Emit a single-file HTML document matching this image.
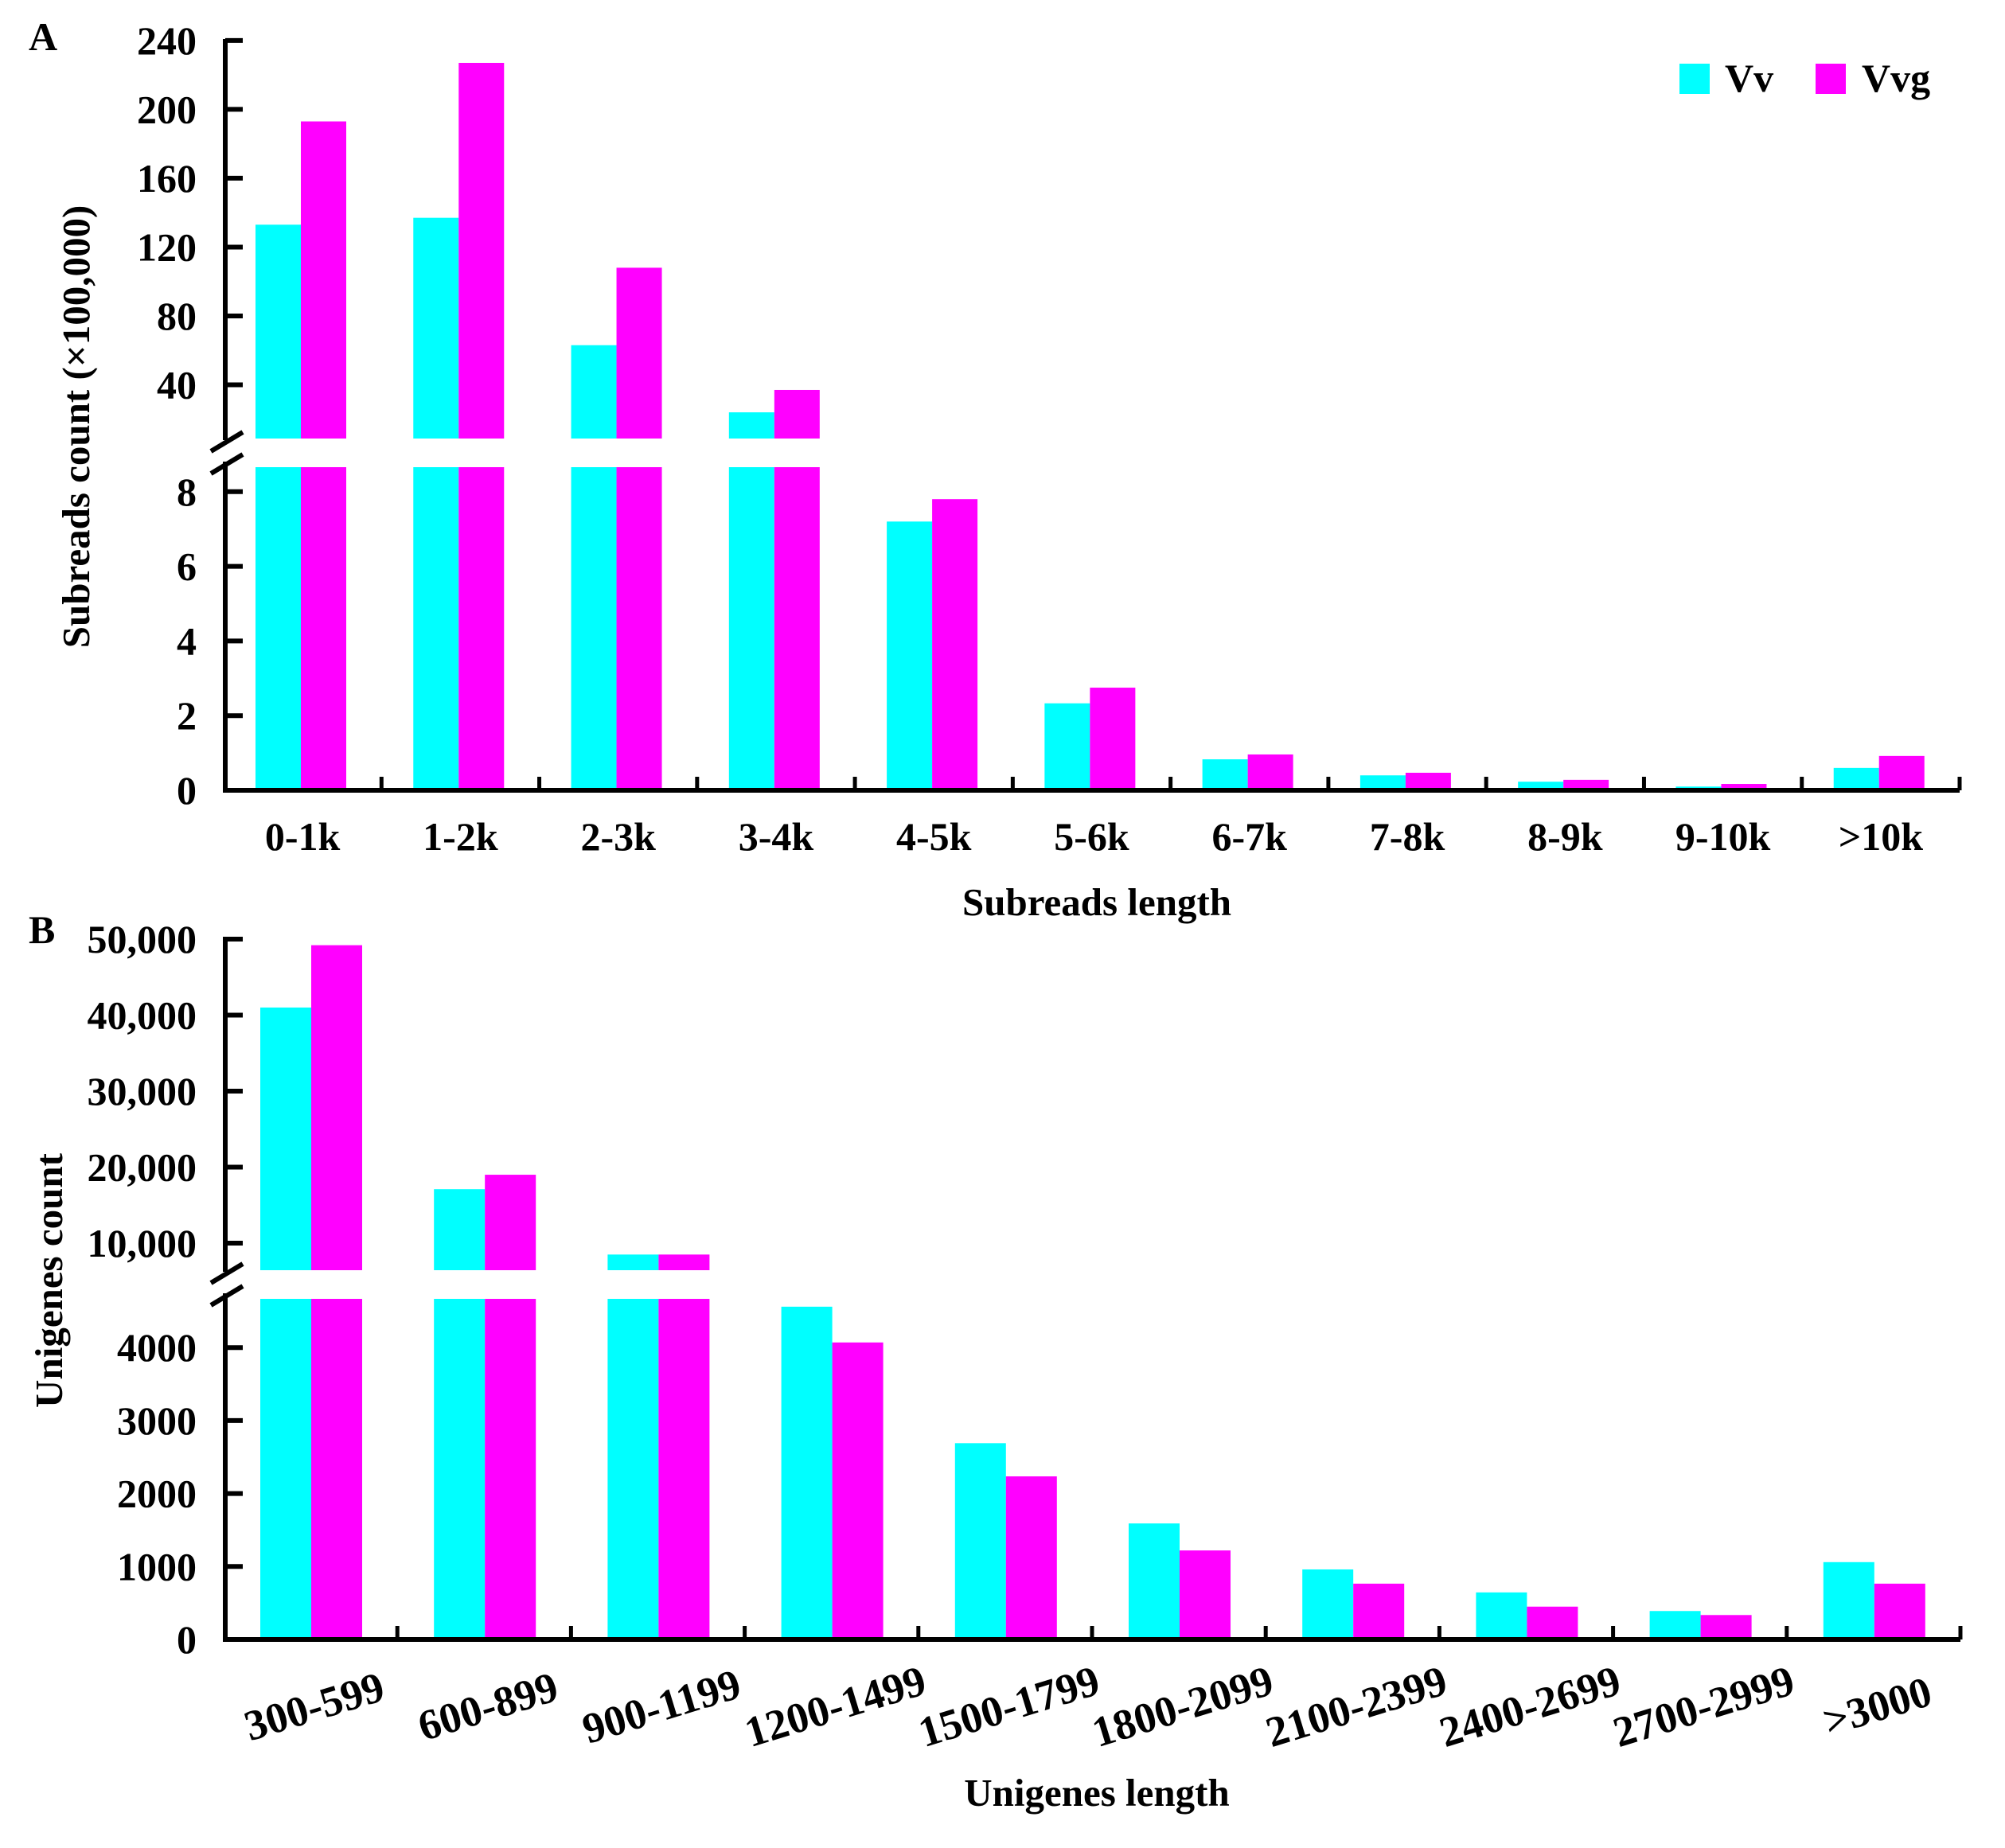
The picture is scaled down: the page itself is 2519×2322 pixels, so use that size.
<!DOCTYPE html>
<html><head><meta charset="utf-8"><style>
html,body{margin:0;padding:0;background:#fff}
svg{display:block}
text{font-family:"Liberation Serif",serif;font-weight:bold;fill:#000}
</style></head><body>
<svg id="chart" width="2519" height="2322" viewBox="0 0 2519 2322" xmlns="http://www.w3.org/2000/svg">
<text x="36" y="63" font-size="50">A</text>
<text x="36" y="1185" font-size="50">B</text>
<text transform="translate(112,536) rotate(-90)" text-anchor="middle" font-size="49">Subreads count (×100,000)</text>
<text transform="translate(78,1609) rotate(-90)" text-anchor="middle" font-size="49">Unigenes count</text>
<text x="1378" y="1150" text-anchor="middle" font-size="49">Subreads length</text>
<text x="1378" y="2269" text-anchor="middle" font-size="49">Unigenes length</text>
<rect x="2110" y="80" width="38" height="38" fill="#00ffff"/>
<text x="2167" y="115" font-size="50">Vv</text>
<rect x="2281" y="80" width="38" height="38" fill="#ff00ff"/>
<text x="2339" y="115" font-size="50">Vvg</text>
</svg>
<script>
const catsA=["0-1k","1-2k","2-3k","3-4k","4-5k","5-6k","6-7k","7-8k","8-9k","9-10k",">10k"];
const vvA=[133,137,63,24,7.2,2.33,0.83,0.4,0.23,0.1,0.6];
const vvgA=[193,227,108,37,7.8,2.75,0.96,0.47,0.28,0.17,0.92];
const upperTicksA=[40,80,120,160,200,240];
const lowerTicksA=[0,2,4,6,8];
const catsB=["300-599","600-899","900-1199","1200-1499","1500-1799","1800-2099","2100-2399","2400-2699","2700-2999",">3000"];
const vvB=[41000,17100,8500,4560,2690,1590,960,645,390,1060];
const vvgB=[49200,19000,8500,4070,2235,1220,765,450,335,765];
const upperTicksB=[10000,20000,30000,40000,50000];
const upperLabelsB=["10,000","20,000","30,000","40,000","50,000"];
const lowerTicksB=[0,1000,2000,3000,4000];

const svg=document.getElementById('chart');
const NS="http://www.w3.org/2000/svg";
function el(tag,attrs){const e=document.createElementNS(NS,tag);for(const k in attrs)e.setAttribute(k,attrs[k]);svg.appendChild(e);return e;}

function panel(cfg){
  const {cats,vv,vvg,x0,x1,off,bw,zero,lowScale,lowTop,brkVal,upZero,upScale,upBottom,axisTopY,uTicks,uLabels,lTicks,labelY,rot,p}=cfg;
  const cw=(x1-x0)/cats.length;
  const yL=v=>zero-v*lowScale;
  const yU=v=>upZero-v*upScale;
  function bar(i,v,color,shift,name){
    const x=x0+i*cw+off+shift;
    if(v<=brkVal){
      const r=el('rect',{x:x,y:yL(v),width:bw,height:zero-yL(v),fill:color});
      
      
    }else{
      const r1=el('rect',{x:x,y:lowTop,width:bw,height:zero-lowTop,fill:color});
      
      
      const r2=el('rect',{x:x,y:yU(v),width:bw,height:upBottom-yU(v),fill:color});
      
      
    }
  }
  cats.forEach((c,i)=>{
    bar(i,vv[i],'#00ffff',0,p+'-bar-vv-'+i);
    bar(i,vvg[i],'#ff00ff',bw,p+'-bar-vvg-'+i);
    const cx=x0+i*cw+cw/2;
    let t;
    if(rot){
      t=el('text',{x:cx+5,y:labelY,'text-anchor':'middle','font-size':54,transform:`rotate(-17 ${cx+5} ${labelY-17})`});
    }else{
      t=el('text',{x:cx,y:labelY,'text-anchor':'middle','font-size':50});
    }
    t.textContent=c;
    
    
  });
  const ax=x0+2;
  const a1=el('line',{x1:ax,y1:axisTopY-3,x2:ax,y2:upBottom+2,stroke:'#000','stroke-width':6});
  
  
  const a2=el('line',{x1:ax,y1:lowTop-7,x2:ax,y2:zero+3,stroke:'#000','stroke-width':6});
  
  
  [upBottom+16,lowTop+8].forEach(yy=>{
    const s=el('line',{x1:ax-18,y1:yy,x2:ax+22,y2:yy-24,stroke:'#000','stroke-width':6});
    
    
  });
  const xa=el('line',{x1:x0-1,y1:zero,x2:x1,y2:zero,stroke:'#000','stroke-width':6});
  
  
  for(let i=1;i<=cats.length;i++){
    const tx=x0+i*cw;
    const tk=el('line',{x1:tx,y1:zero,x2:tx,y2:zero-17,stroke:'#000','stroke-width':5});
    
    
  }
  uTicks.forEach((v,i)=>{
    const y=yU(v);
    const tk=el('line',{x1:ax,y1:y,x2:ax+22,y2:y,stroke:'#000','stroke-width':6});
    
    
    const t=el('text',{x:247,y:y+17,'text-anchor':'end','font-size':50});
    t.textContent=uLabels?uLabels[i]:String(v);
    
    
  });
  lTicks.forEach(v=>{
    const y=yL(v);
    if(v>0){
      const tk=el('line',{x1:ax,y1:y,x2:ax+22,y2:y,stroke:'#000','stroke-width':6});
      
      
    }
    const t=el('text',{x:247,y:y+17,'text-anchor':'end','font-size':50});
    t.textContent=String(v);
    
    
  });
}
panel({p:'a',cats:catsA,vv:vvA,vvg:vvgA,x0:281,x1:2462,off:40,bw:57,zero:993,lowScale:46.9,lowTop:587,brkVal:8.5,upZero:570,upScale:2.163,upBottom:551,axisTopY:52,uTicks:upperTicksA,lTicks:lowerTicksA,labelY:1068,rot:false});
panel({p:'b',cats:catsB,vv:vvB,vvg:vvgB,x0:281,x1:2463,off:46,bw:64,zero:2060,lowScale:0.0917,lowTop:1632,brkVal:4650,upZero:1657.5,upScale:0.00955,upBottom:1596,axisTopY:1180,uTicks:upperTicksB,uLabels:upperLabelsB,lTicks:lowerTicksB,labelY:2162,rot:true});
</script>
</body></html>
